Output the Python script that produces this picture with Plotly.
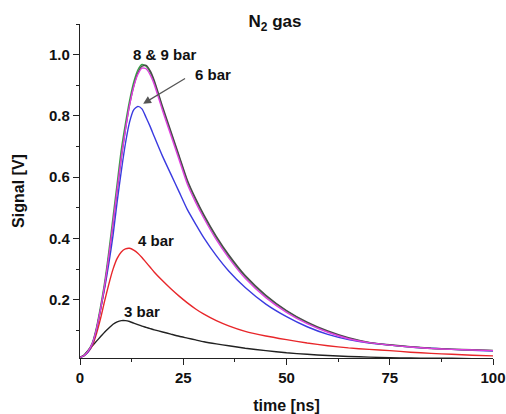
import plotly.graph_objects as go

# time axis [ns]
time_ns = [0, 1, 2, 3, 4, 5, 6, 7, 8, 9, 10, 11, 12, 13, 14, 15, 16, 17, 18, 20,
           22, 24, 26, 28, 30, 33, 36, 40, 45, 50, 55, 60, 65, 70, 75, 80, 85, 90, 95, 100]

sig_3bar = [0.012, 0.020, 0.035, 0.050, 0.065, 0.080, 0.095, 0.108, 0.120, 0.128, 0.132, 0.132,
            0.129, 0.124, 0.119, 0.114, 0.110, 0.106, 0.102, 0.095, 0.088, 0.081, 0.075, 0.069,
            0.063, 0.056, 0.050, 0.042, 0.034, 0.027, 0.022, 0.018, 0.015, 0.013, 0.011, 0.010,
            0.009, 0.009, 0.008, 0.008]

sig_4bar = [0.012, 0.018, 0.030, 0.050, 0.090, 0.140, 0.198, 0.252, 0.300, 0.335, 0.356, 0.366,
            0.368, 0.362, 0.352, 0.338, 0.322, 0.306, 0.290, 0.262, 0.236, 0.212, 0.190, 0.170,
            0.153, 0.132, 0.115, 0.097, 0.082, 0.070, 0.059, 0.050, 0.043, 0.038, 0.034, 0.029,
            0.025, 0.022, 0.019, 0.017]

sig_6bar = [0.012, 0.018, 0.030, 0.055, 0.105, 0.170, 0.240, 0.320, 0.410, 0.520, 0.620, 0.710,
            0.780, 0.820, 0.831, 0.823, 0.795, 0.765, 0.732, 0.668, 0.610, 0.552, 0.494, 0.447,
            0.402, 0.344, 0.294, 0.240, 0.186, 0.145, 0.112, 0.087, 0.070, 0.059, 0.052, 0.046,
            0.042, 0.038, 0.035, 0.033]

sig_8bar = [0.012, 0.018, 0.033, 0.058, 0.105, 0.172, 0.250, 0.345, 0.450, 0.560, 0.665, 0.755,
            0.835, 0.895, 0.935, 0.956, 0.954, 0.934, 0.902, 0.817, 0.737, 0.657, 0.577, 0.518,
            0.466, 0.396, 0.337, 0.270, 0.207, 0.159, 0.122, 0.094, 0.073, 0.060, 0.052, 0.046,
            0.041, 0.038, 0.036, 0.034]

sig_9bar = [0.012, 0.018, 0.035, 0.060, 0.110, 0.180, 0.260, 0.360, 0.470, 0.580, 0.690, 0.775,
            0.850, 0.910, 0.950, 0.968, 0.962, 0.942, 0.910, 0.825, 0.745, 0.665, 0.585, 0.526,
            0.473, 0.403, 0.343, 0.276, 0.212, 0.163, 0.125, 0.096, 0.074, 0.060, 0.052, 0.046,
            0.041, 0.038, 0.036, 0.034]

sig_9bar_b = [0.012, 0.018, 0.033, 0.057, 0.103, 0.170, 0.248, 0.343, 0.448, 0.558, 0.664, 0.756,
              0.836, 0.897, 0.940, 0.962, 0.965, 0.947, 0.915, 0.830, 0.750, 0.670, 0.590, 0.530,
              0.477, 0.407, 0.347, 0.279, 0.215, 0.165, 0.127, 0.098, 0.076, 0.061, 0.053, 0.047,
              0.042, 0.039, 0.037, 0.035]

series = [
    ("3 bar", sig_3bar, "#222222"),
    ("4 bar", sig_4bar, "#e8262a"),
    ("6 bar", sig_6bar, "#3a3ae0"),
    ("9 bar", sig_9bar, "#3aa048"),
    ("9 bar (b)", sig_9bar_b, "#4a4a4a"),
    ("8 bar", sig_8bar, "#e040e0"),
]

x_ticks = [0, 25, 50, 75, 100]
y_ticks = [0.2, 0.4, 0.6, 0.8, 1.0]
y_tick_labels = ["0.2", "0.4", "0.6", "0.8", "1.0"]

FONT = "Liberation Sans, Arial, sans-serif"

fig = go.Figure()
for name, vals, col in series:
    fig.add_trace(go.Scatter(x=time_ns, y=vals, mode="lines", name=name,
                             line=dict(color=col, width=1.4, shape="spline", smoothing=0.6)))

ann_font = dict(family=FONT, size=15, color="#111111")
fig.add_annotation(x=20.5, y=1.0, text="<b>8 &amp; 9 bar</b>", showarrow=False, font=ann_font)
fig.add_annotation(x=32.2, y=0.935, text="<b>6 bar</b>", showarrow=False, font=ann_font)
fig.add_annotation(x=15.3, y=0.84, ax=25.8, ay=0.925, xref="x", yref="y", axref="x", ayref="y",
                   text="", showarrow=True, arrowhead=2, arrowsize=1.3, arrowwidth=1.2,
                   arrowcolor="#555555")
fig.add_annotation(x=18.4, y=0.395, text="<b>4 bar</b>", showarrow=False, font=ann_font)
fig.add_annotation(x=15.0, y=0.162, text="<b>3 bar</b>", showarrow=False, font=ann_font)

fig.update_layout(
    width=506, height=414,
    margin=dict(l=80, r=13, t=24, b=56),
    paper_bgcolor="white", plot_bgcolor="white",
    showlegend=False,
    font=dict(family=FONT, size=14, color="#111111"),
    title=dict(text="<b>N<sub>2</sub> gas</b>", x=275 / 506, xanchor="center",
               y=1 - 21 / 414, yanchor="middle", font=dict(family=FONT, size=17, color="#111111")),
)

fig.update_xaxes(
    range=[0, 100], tickvals=x_ticks, ticktext=[f"<b>{v}</b>" for v in x_ticks],
    automargin=False,
    showline=True, linecolor="#222222", linewidth=1.3, mirror=False,
    ticks="outside", ticklen=6, tickwidth=1.3, tickcolor="#222222",
    minor=dict(ticks="outside", ticklen=3, tickwidth=1.2, tickcolor="#222222", dtick=12.5, tick0=0),
    showgrid=False, zeroline=False,
    tickfont=dict(family=FONT, size=15, color="#111111"),
    title=dict(text="<b>time [ns]</b>", standoff=14, font=dict(family=FONT, size=16, color="#111111")),
)
fig.update_yaxes(
    range=[0.01, 1.1], tickvals=y_ticks, ticktext=[f"<b>{t}</b>" for t in y_tick_labels],
    automargin=False,
    showline=True, linecolor="#222222", linewidth=1.3, mirror=False,
    ticks="outside", ticklen=6, tickwidth=1.3, tickcolor="#222222",
    minor=dict(ticks="outside", ticklen=3, tickwidth=1.2, tickcolor="#222222", dtick=0.1, tick0=0.1),
    showgrid=False, zeroline=False,
    tickfont=dict(family=FONT, size=15, color="#111111"),
    title=dict(text="<b>Signal [V]</b>", standoff=20, font=dict(family=FONT, size=16, color="#111111")),
)

fig.write_html("out.html")
